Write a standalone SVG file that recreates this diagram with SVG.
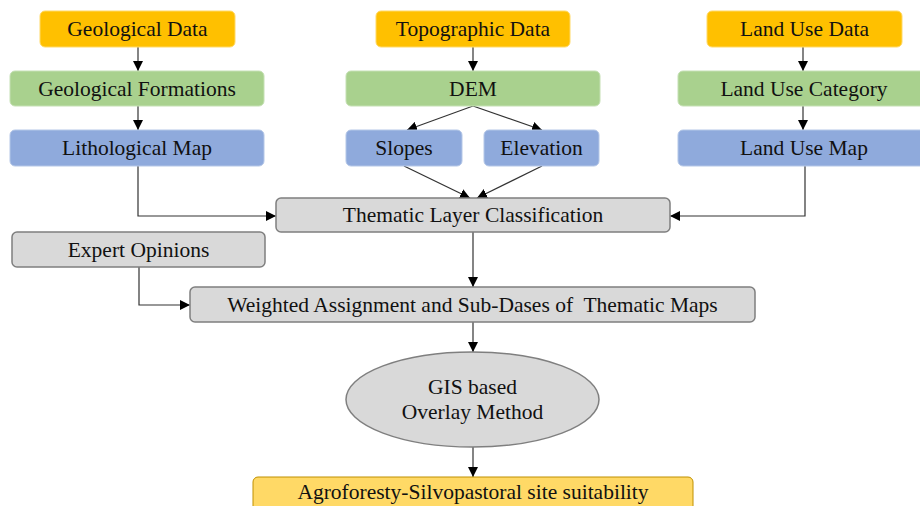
<svg xmlns="http://www.w3.org/2000/svg" width="920" height="506" viewBox="0 0 920 506">
<style>
text{font-family:"Liberation Serif","DejaVu Serif",serif;font-size:21.5px;fill:#111;text-anchor:middle;white-space:pre}
.src rect{fill:#ffc000;stroke:#ffd966;stroke-width:1}
.grn rect{fill:#a9d18e;stroke:#c5e0b4;stroke-width:1}
.blu rect{fill:#8faadc;stroke:#b4c7e7;stroke-width:1}
.gry rect,.gry ellipse{fill:#d9d9d9;stroke:#7f7f7f;stroke-width:1.5}
.fin rect{fill:#ffd966;stroke:#bf9000;stroke-width:1}
#connectors path{fill:none;stroke:#333;stroke-width:1.2;marker-end:url(#ah)}
</style>
<defs>
<marker id="ah" viewBox="0 0 10 10" refX="10" refY="5" markerWidth="10" markerHeight="10" markerUnits="userSpaceOnUse" orient="auto">
<path d="M0,0 L10,5 L0,10 z" fill="#000"/>
</marker>
</defs>
<rect width="920" height="506" fill="#fff"/>
<g id="connectors">
<path d="M138,47 V71"/>
<path d="M138,106 V130"/>
<path d="M473,47 V71"/>
<path d="M473,106 L407,130"/>
<path d="M473,106 L542,130"/>
<path d="M803,47 V71"/>
<path d="M803,106 V130"/>
<path d="M404,166 L470,198"/>
<path d="M542,166 L477,198"/>
<path d="M138,166 V216 H276"/>
<path d="M805,166 V216 H670"/>
<path d="M473,232 V287"/>
<path d="M139,267 V305 H190"/>
<path d="M473,322 V352"/>
<path d="M473,447 V477"/>
</g>
<g id="geological-data" class="src"><rect x="40" y="11" width="195" height="36" rx="5"/><text x="137.5" y="36">Geological Data</text></g>
<g id="topographic-data" class="src"><rect x="376" y="11" width="194" height="36" rx="5"/><text x="473" y="36">Topographic Data</text></g>
<g id="land-use-data" class="src"><rect x="707" y="11" width="195" height="36" rx="5"/><text x="804.5" y="36">Land Use Data</text></g>
<g id="geological-formations" class="grn"><rect x="10" y="71" width="254" height="35" rx="5"/><text x="137" y="95.5">Geological Formations</text></g>
<g id="dem" class="grn"><rect x="346" y="71" width="254" height="35" rx="5"/><text x="473" y="95.5">DEM</text></g>
<g id="land-use-category" class="grn"><rect x="678" y="71" width="250" height="35" rx="5"/><text x="804" y="95.5">Land Use Category</text></g>
<g id="lithological-map" class="blu"><rect x="10" y="130" width="254" height="36" rx="5"/><text x="137" y="155">Lithological Map</text></g>
<g id="slopes" class="blu"><rect x="346" y="130" width="116" height="36" rx="5"/><text x="404" y="155">Slopes</text></g>
<g id="elevation" class="blu"><rect x="484" y="130" width="115" height="36" rx="5"/><text x="541.5" y="155">Elevation</text></g>
<g id="land-use-map" class="blu"><rect x="678" y="130" width="250" height="36" rx="5"/><text x="804" y="155">Land Use Map</text></g>
<g id="thematic-layer-classification" class="gry"><rect x="276" y="198" width="394" height="34" rx="5"/><text x="473" y="222">Thematic Layer Classification</text></g>
<g id="expert-opinions" class="gry"><rect x="12" y="232" width="253" height="35" rx="5"/><text x="138.5" y="256.5">Expert Opinions</text></g>
<g id="weighted-assignment" class="gry"><rect x="190" y="287" width="565" height="35" rx="5"/><text x="472.5" y="311.5">Weighted Assignment and Sub-Dases of  Thematic Maps</text></g>
<g id="gis-overlay" class="gry"><ellipse cx="472.5" cy="399.5" rx="126.5" ry="47.5"/><text x="472.5" y="393.5">GIS based</text><text x="472.5" y="418.5">Overlay Method</text></g>
<g id="site-suitability" class="fin"><rect x="253" y="477" width="440" height="40" rx="5"/><text x="473" y="498.5">Agroforesty-Silvopastoral site suitability</text></g>
</svg>
